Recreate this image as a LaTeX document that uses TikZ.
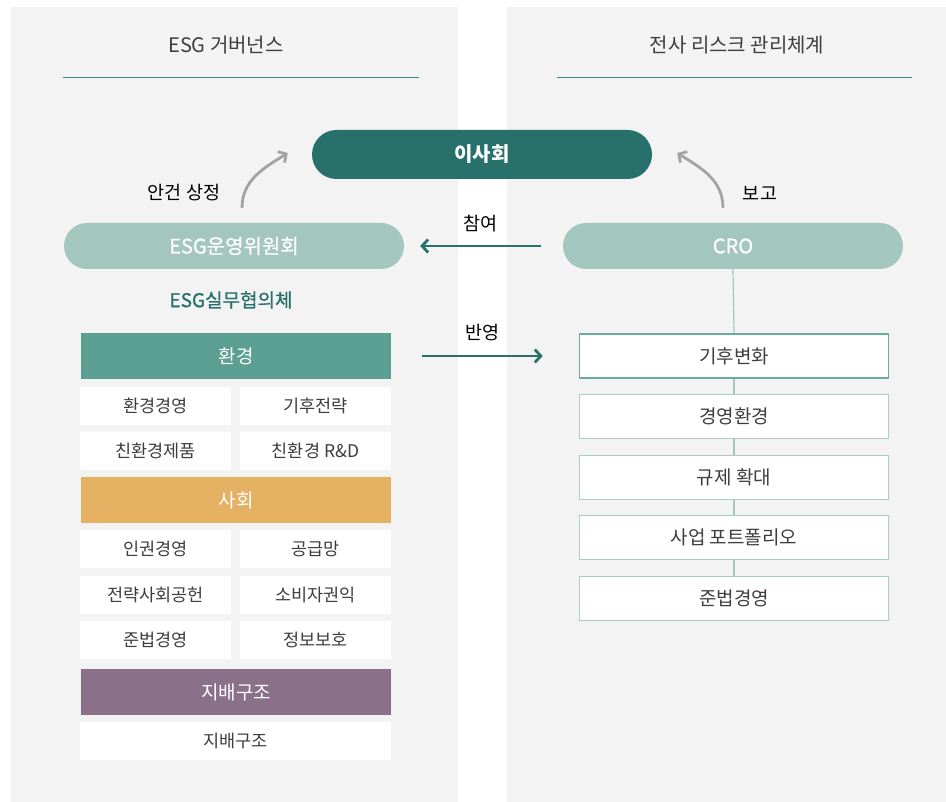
\documentclass[tikz,border=0pt]{standalone}
\usepackage{fontspec}
\setmainfont{Noto Sans CJK KR}
\newfontfamily\medfont{Noto Sans CJK KR}[FakeBold=0.8]
\usepackage{tikz}
\usetikzlibrary{arrows.meta}
\tikzset{>={Straight Barb[length=6pt,width=13pt]}}

\definecolor{panel}{HTML}{F3F3F3}
\definecolor{board}{HTML}{27706B}
\definecolor{light}{HTML}{A3C7BF}
\definecolor{envc}{HTML}{5B9F93}
\definecolor{socc}{HTML}{E5B263}
\definecolor{govc}{HTML}{8A7089}
\definecolor{txt}{HTML}{3E3E3E}
\definecolor{arrowgray}{HTML}{A3A3A3}
\definecolor{rule}{HTML}{3C8783}
\definecolor{boxline}{HTML}{A8CFC6}
\definecolor{boxfirst}{HTML}{6BAA9F}

\begin{document}
\begin{tikzpicture}[
    x = 1pt, y = -1pt,
    pill/.style = {rounded corners = 23pt, minimum width = 340pt, minimum height = 46pt, inner sep = 0pt, text = white, font = \medfont\fontsize{20}{22}\selectfont},
    head/.style = {minimum width = 310pt, minimum height = 46pt, inner sep = 0pt, text = white, font = \fontsize{19}{21}\selectfont},
    item/.style = {fill = white, minimum width = 151pt, minimum height = 38pt, inner sep = 0pt, text = txt, font = \fontsize{17.5}{19}\selectfont},
    risk/.style = {draw = boxline, line width = 1.2pt, fill = white, minimum width = 309pt, minimum height = 44pt, inner sep = 0pt, text = txt, font = \fontsize{19}{21}\selectfont},
    lbl/.style = {text = black, font = \fontsize{18.5}{20}\selectfont},
    link/.style = {->, line width = 2.8pt, board},
    curve/.style = {->, line width = 2.8pt, arrowgray},
]
\useasboundingbox (0,0) rectangle (946,802);

% panels
\fill[panel] (11,7) rectangle (458,802);
\fill[panel] (507,7) rectangle (946,802);
\node[text = txt, font = \fontsize{20}{22}\selectfont] (govtitle) at (226,45) {ESG 거버넌스};
\node[text = txt, font = \fontsize{20}{22}\selectfont] (risktitle) at (737,45) {전사 리스크 관리체계};
\draw[rule, line width = 1pt] (63,78) -- (419,78);
\draw[rule, line width = 1pt] (557,78) -- (912,78);

% top level
\node[pill, fill = board, minimum height = 49pt, rounded corners = 24.5pt, font = \fontsize{20}{22}\selectfont\bfseries] (bod) at (482,154.5) {이사회};
\node[pill, fill = light] (esgcom) at (234,246) {ESG운영위원회};
\node[pill, fill = light] (cro) at (733,246) {CRO};

\draw[curve] ([xshift = 8pt, yshift = 15pt]esgcom.north) to[out = 90, in = 212] ([xshift = -24pt, yshift = 1.5pt]bod.west);
\draw[curve] ([xshift = -10pt, yshift = 15pt]cro.north) to[out = 90, in = -32] ([xshift = 25pt, yshift = 1.5pt]bod.east);
\node[lbl] (agenda) at (184,193) {안건 상정};
\node[lbl] (report) at (760,193) {보고};

\draw[link] ([xshift = -22pt]cro.west) -- node[lbl, above = 9pt] (join) {참여} ([xshift = 16pt]esgcom.east);

% working council
\node[text = board, font = \medfont\fontsize{19}{21}\selectfont] (council) at (231,300) {ESG실무협의체};

\node[head, fill = envc] (env) at (236,356) {환경};
\node[item] (e1) at (155.5,406) {환경경영};
\node[item] (e2) at (315.5,406) {기후전략};
\node[item] (e3) at (155.5,451) {친환경제품};
\node[item] (e4) at (315.5,451) {친환경 R\&D};

\node[head, fill = socc] (soc) at (236,500) {사회};
\node[item] (s1) at (155.5,549) {인권경영};
\node[item] (s2) at (315.5,549) {공급망};
\node[item] (s3) at (155.5,595) {전략사회공헌};
\node[item] (s4) at (315.5,595) {소비자권익};
\node[item] (s5) at (155.5,640) {준법경영};
\node[item] (s6) at (315.5,640) {정보보호};

\node[head, fill = govc] (gov) at (236,692) {지배구조};
\node[item, minimum width = 311pt] (g1) at (235.5,741) {지배구조};

% risk areas
\node[risk, draw = boxfirst, line width = 1.6pt] (r1) at (734,356) {기후변화};
\node[risk] (r2) at (734,416.5) {경영환경};
\node[risk] (r3) at (734,477.5) {규제 확대};
\node[risk] (r4) at (734,537.5) {사업 포트폴리오};
\node[risk] (r5) at (734,598.5) {준법경영};

\draw[light, line width = 1.2pt] (cro.south) -- (r1.north);
\foreach \a/\b in {r1/r2, r2/r3, r3/r4, r4/r5}
    \draw[light, line width = 1.2pt] (\a.south) -- (\b.north);

\draw[link] ([xshift = 31pt]env.east) -- node[lbl, above = 10pt] (apply) {반영} ([xshift = -36pt]r1.west);

\end{tikzpicture}
\end{document}
